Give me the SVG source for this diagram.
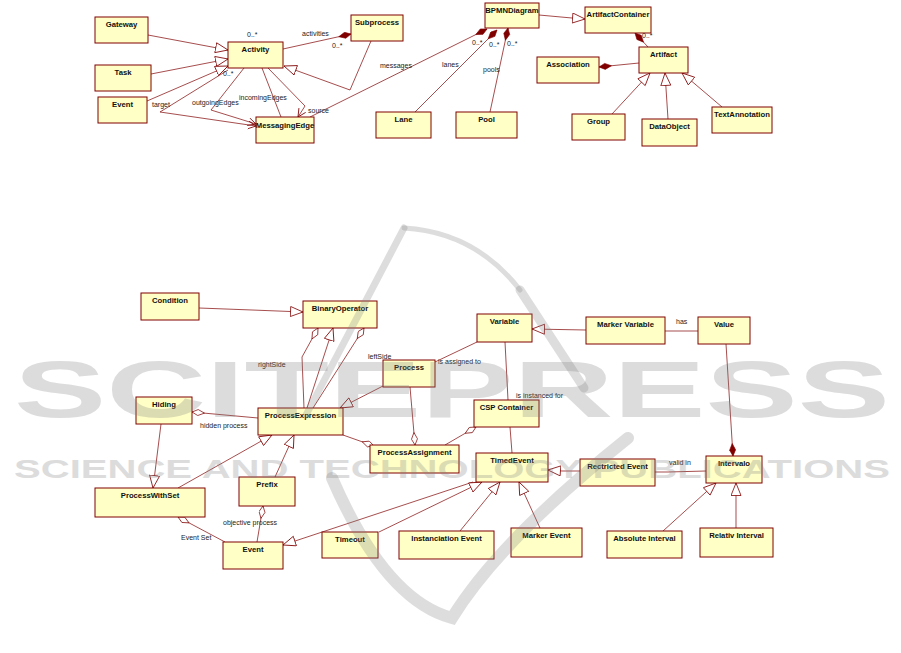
<svg xmlns="http://www.w3.org/2000/svg" width="901" height="653" viewBox="0 0 901 653">
<style>
.node rect{fill:#ffffc6;stroke:#800000;stroke-width:1}
.node text{font-family:"Liberation Sans",Arial,sans-serif;font-weight:bold;font-size:7.7px;fill:#111;text-anchor:middle}
.edge{fill:none;stroke:#800000;stroke-width:0.7}
.gen{marker-end:url(#gen)}
.comp{marker-end:url(#comp)}
.agg{marker-end:url(#agg)}
.open{marker-end:url(#open)}
.lbl{font-family:"Liberation Sans",Arial,sans-serif;font-size:7px;fill:#222}
.wm{fill:#808080;opacity:0.27;font-family:"Liberation Sans",Arial,sans-serif;font-weight:bold}
.wms{fill:none;stroke:#808080;opacity:0.27;stroke-linecap:round}
</style>
<defs>
<marker id="gen" markerWidth="15" markerHeight="12" refX="13" refY="5.5" orient="auto" markerUnits="userSpaceOnUse"><path d="M0.5,0.5 L13,5.5 L0.5,10.5 Z" fill="#fff" stroke="#800000" stroke-width="0.8"/></marker>
<marker id="comp" markerWidth="15" markerHeight="8" refX="13" refY="3.5" orient="auto" markerUnits="userSpaceOnUse"><path d="M0.5,3.5 L7,0.5 L13,3.5 L7,6.5 Z" fill="#800000" stroke="#800000" stroke-width="0.6"/></marker>
<marker id="agg" markerWidth="15" markerHeight="8" refX="13" refY="3.5" orient="auto" markerUnits="userSpaceOnUse"><path d="M0.5,3.5 L7,0.5 L13,3.5 L7,6.5 Z" fill="#fff" stroke="#800000" stroke-width="0.7"/></marker>
<marker id="open" markerWidth="10" markerHeight="10" refX="8" refY="4" orient="auto" markerUnits="userSpaceOnUse"><path d="M0,0 L8,4 L0,8" fill="none" stroke="#800000" stroke-width="0.8"/></marker>
</defs>
<rect width="901" height="653" fill="#fff"/>

<g id="connectors">
<!-- top diagram -->
<path class="edge gen" d="M148,35 L228,50"/>
<path class="edge gen" d="M151,74 L228,59"/>
<path class="edge gen" d="M147,101 L228,66"/>
<path class="edge open" d="M228,70 L160,112 L256,126"/>
<path class="edge open" d="M244,68 L211,110 L256,124"/>
<path class="edge" d="M262,68 L281,117"/>
<path class="edge open" d="M268,68 L305,106 L298,117"/>
<path class="edge gen" d="M371,41 L350,90 L284,66"/>
<path class="edge comp" d="M283,49 L351,34"/>
<path class="edge comp" d="M310,117 L487,29"/>
<path class="edge comp" d="M415,112 L497,30"/>
<path class="edge comp" d="M490,112 L508,28"/>
<path class="edge gen" d="M539,15 L572,18 L585,19"/>
<path class="edge comp" d="M648,47 L635,33"/>
<path class="edge comp" d="M639,63 L599,67"/>
<path class="edge gen" d="M612,114 L650,73"/>
<path class="edge gen" d="M668,119 L665,73"/>
<path class="edge gen" d="M722,107 L682,73"/>
<!-- bottom diagram -->
<path class="edge gen" d="M199,308 L252,310 L303,312"/>
<path class="edge agg" d="M304,408 L302,357 L318,328"/>
<path class="edge gen" d="M307,408 L333,328"/>
<path class="edge agg" d="M313,408 L364,328"/>
<path class="edge gen" d="M383,386 L340,408"/>
<path class="edge agg" d="M258,418 L192,412"/>
<path class="edge gen" d="M161,424 L153,488"/>
<path class="edge gen" d="M178,488 L272,435"/>
<path class="edge gen" d="M275,477 L294,435"/>
<path class="edge agg" d="M257,542 L263,506"/>
<path class="edge agg" d="M225,542 L178,517"/>
<path class="edge gen" d="M473,482 L283,545"/>
<path class="edge gen" d="M379,532 L482,482"/>
<path class="edge gen" d="M460,531 L500,482"/>
<path class="edge gen" d="M540,528 L519,482"/>
<path class="edge gen" d="M580,471 L562,471 L548,470"/>
<path class="edge" d="M655,472 L668,472 L706,471"/>
<path class="edge gen" d="M663,531 L716,483"/>
<path class="edge gen" d="M736,528 L736,483"/>
<path class="edge comp" d="M726,344 L733,456"/>
<path class="edge" d="M665,331 L698,331"/>
<path class="edge gen" d="M586,330 L532,329"/>
<path class="edge" d="M477,342 L435,362"/>
<path class="edge" d="M505,342 L508,400"/>
<path class="edge" d="M510,427 L512,453"/>
<path class="edge agg" d="M410,387 L415,445"/>
<path class="edge agg" d="M445,445 L476,427"/>
<path class="edge agg" d="M343,435 L374,446"/>
</g>

<g id="edge-labels">
<text class="lbl" x="247" y="37">0..*</text>
<text class="lbl" x="302" y="36">activities</text>
<text class="lbl" x="332" y="48">0..*</text>
<text class="lbl" x="223" y="76">0..*</text>
<text class="lbl" x="152" y="107">target</text>
<text class="lbl" x="192" y="105">outgoingEdges</text>
<text class="lbl" x="239" y="100">incomingEdges</text>
<text class="lbl" x="308" y="113">source</text>
<text class="lbl" x="380" y="68">messages</text>
<text class="lbl" x="442" y="67">lanes</text>
<text class="lbl" x="483" y="72">pools</text>
<text class="lbl" x="472" y="45">0..*</text>
<text class="lbl" x="489" y="47">0..*</text>
<text class="lbl" x="507" y="46">0..*</text>
<text class="lbl" x="642" y="38">0..*</text>
<text class="lbl" x="258" y="367">rightSide</text>
<text class="lbl" x="368" y="359">leftSide</text>
<text class="lbl" x="438" y="364">is assigned to</text>
<text class="lbl" x="516" y="398">is instanced for</text>
<text class="lbl" x="200" y="428">hidden process</text>
<text class="lbl" x="223" y="525">objective process</text>
<text class="lbl" x="181" y="540">Event Set</text>
<text class="lbl" x="676" y="324">has</text>
<text class="lbl" x="669" y="465">valid in</text>
</g>

<g id="n-gateway" class="node"><rect x="95" y="17" width="53" height="26"/><text x="121.5" y="27">Gateway</text></g>
<g id="n-task" class="node"><rect x="95" y="65" width="56" height="26"/><text x="123" y="75">Task</text></g>
<g id="n-event-top" class="node"><rect x="98" y="97" width="49" height="26"/><text x="122.5" y="107">Event</text></g>
<g id="n-activity" class="node"><rect x="228" y="42" width="55" height="26"/><text x="255.5" y="52">Activity</text></g>
<g id="n-messagingedge" class="node"><rect x="256" y="117" width="58" height="26"/><text x="285" y="127.5">MessagingEdge</text></g>
<g id="n-subprocess" class="node"><rect x="351" y="15" width="52" height="26"/><text x="377" y="25">Subprocess</text></g>
<g id="n-bpmndiagram" class="node"><rect x="485" y="3" width="54" height="25"/><text x="512" y="13">BPMNDiagram</text></g>
<g id="n-lane" class="node"><rect x="376" y="112" width="55" height="26"/><text x="403.5" y="122">Lane</text></g>
<g id="n-pool" class="node"><rect x="456" y="112" width="61" height="26"/><text x="486.5" y="122">Pool</text></g>
<g id="n-artifactcontainer" class="node"><rect x="585" y="7" width="66" height="26"/><text x="618" y="17">ArtifactContainer</text></g>
<g id="n-artifact" class="node"><rect x="639" y="47" width="49" height="26"/><text x="663.5" y="57">Artifact</text></g>
<g id="n-association" class="node"><rect x="537" y="57" width="62" height="26"/><text x="568" y="67">Association</text></g>
<g id="n-group" class="node"><rect x="572" y="114" width="53" height="26"/><text x="598.5" y="124">Group</text></g>
<g id="n-dataobject" class="node"><rect x="642" y="119" width="55" height="27"/><text x="669.5" y="129">DataObject</text></g>
<g id="n-textannotation" class="node"><rect x="712" y="107" width="60" height="26"/><text x="742" y="117">TextAnnotation</text></g>

<g id="n-condition" class="node"><rect x="141" y="293" width="58" height="27"/><text x="170" y="303">Condition</text></g>
<g id="n-binaryoperator" class="node"><rect x="303" y="301" width="74" height="27"/><text x="340" y="311">BinaryOperator</text></g>
<g id="n-variable" class="node"><rect x="477" y="314" width="55" height="28"/><text x="504.5" y="324">Variable</text></g>
<g id="n-markervariable" class="node"><rect x="586" y="317" width="79" height="27"/><text x="625.5" y="327">Marker Variable</text></g>
<g id="n-value" class="node"><rect x="698" y="317" width="52" height="27"/><text x="724" y="327">Value</text></g>
<g id="n-process" class="node"><rect x="383" y="360" width="52" height="27"/><text x="409" y="370">Process</text></g>
<g id="n-hiding" class="node"><rect x="136" y="397" width="56" height="27"/><text x="164" y="407">Hiding</text></g>
<g id="n-processexpression" class="node"><rect x="258" y="408" width="85" height="27"/><text x="300.5" y="418">ProcessExpression</text></g>
<g id="n-cspcontainer" class="node"><rect x="474" y="400" width="65" height="27"/><text x="506.5" y="410">CSP Container</text></g>
<g id="n-processassignment" class="node"><rect x="370" y="445" width="89" height="28"/><text x="414.5" y="455">ProcessAssignment</text></g>
<g id="n-timedevent" class="node"><rect x="476" y="453" width="72" height="29"/><text x="512" y="463">TimedEvent</text></g>
<g id="n-restrictedevent" class="node"><rect x="580" y="459" width="75" height="27"/><text x="617.5" y="469">Rectricted Event</text></g>
<g id="n-intervalo" class="node"><rect x="706" y="456" width="56" height="27"/><text x="734" y="466">Intervalo</text></g>
<g id="n-processwithset" class="node"><rect x="95" y="488" width="110" height="29"/><text x="150" y="498">ProcessWithSet</text></g>
<g id="n-prefix" class="node"><rect x="239" y="477" width="56" height="29"/><text x="267" y="487">Prefix</text></g>
<g id="n-event" class="node"><rect x="223" y="542" width="60" height="27"/><text x="253" y="552">Event</text></g>
<g id="n-timeout" class="node"><rect x="322" y="532" width="56" height="26"/><text x="350" y="542">Timeout</text></g>
<g id="n-instanciationevent" class="node"><rect x="399" y="531" width="95" height="28"/><text x="446.5" y="541">Instanciation Event</text></g>
<g id="n-markerevent" class="node"><rect x="511" y="528" width="71" height="29"/><text x="546.5" y="538">Marker Event</text></g>
<g id="n-absoluteinterval" class="node"><rect x="607" y="531" width="75" height="27"/><text x="644.5" y="541">Absolute Interval</text></g>
<g id="n-relativinterval" class="node"><rect x="700" y="528" width="73" height="29"/><text x="736.5" y="538">Relativ Interval</text></g>

<g id="watermark">
<path class="wms" d="M404,228 Q475,232 520,290" stroke-width="5"/>
<path class="wms" d="M404,228 L306,415" stroke-width="7"/>
<path class="wms" d="M520,290 L584,388" stroke-width="9"/>
<path class="wms" d="M332,478 Q385,600 452,618 Q500,540 628,438" stroke-width="12"/>
<text class="wm" x="14" y="417" font-size="80" textLength="876" lengthAdjust="spacingAndGlyphs">SCITEPRESS</text>
<text class="wm" x="14" y="478" font-size="25" textLength="876" lengthAdjust="spacingAndGlyphs">SCIENCE AND TECHNOLOGY PUBLICATIONS</text>
</g>
</svg>
